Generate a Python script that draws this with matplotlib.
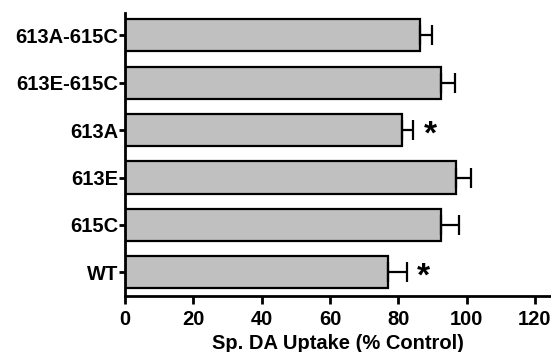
import numpy as np
import matplotlib.pyplot as plt

plt.rcParams['font.family'] = ['Liberation Sans', 'DejaVu Sans']
plt.rcParams['font.weight'] = 'bold'

labels = ['WT', '615C', '613E', '613A', '613E-615C', '613A-615C']
values = [77.1, 92.4, 96.9, 81.0, 92.6, 86.3]
errors = [5.4, 5.3, 4.3, 3.4, 4.0, 3.7]
significant = [True, False, False, True, False, False]

fig = plt.figure(figsize=(5.51, 3.52), dpi=100)
ax = fig.add_axes([0.227, 0.159, 0.773, 0.804])

y = np.arange(len(labels))
ax.barh(y, values, height=0.68, color='#c0c0c0', edgecolor='black', linewidth=1.6)
ax.errorbar(values, y, xerr=[np.zeros(len(errors)), errors], fmt='none',
            ecolor='black', elinewidth=1.6, capsize=7, capthick=1.6)

for yi, v, e, s in zip(y, values, errors, significant):
    if s:
        ax.text(v + e + 3.0, yi - 0.1, '*', fontsize=24, fontweight='bold',
                va='center', ha='left')

ax.set_yticks(y)
ax.set_yticklabels(labels, fontsize=14.5, fontweight='bold')
ax.set_xticks([0, 20, 40, 60, 80, 100, 120])
ax.set_xticklabels(['0', '20', '40', '60', '80', '100', '120'], fontsize=14.5, fontweight='bold')
ax.set_xlim(0, 124.7)
ax.set_ylim(-0.5, 5.47)
ax.set_xlabel('Sp. DA Uptake (% Control)', fontsize=14.5, fontweight='bold', labelpad=4)

for side in ['top', 'right']:
    ax.spines[side].set_visible(False)
for side in ['left', 'bottom']:
    ax.spines[side].set_linewidth(2)
ax.tick_params(axis='y', length=4, width=2, pad=1)
ax.tick_params(axis='x', length=6, width=2, pad=4)

fig.savefig('out.png', dpi=100)
